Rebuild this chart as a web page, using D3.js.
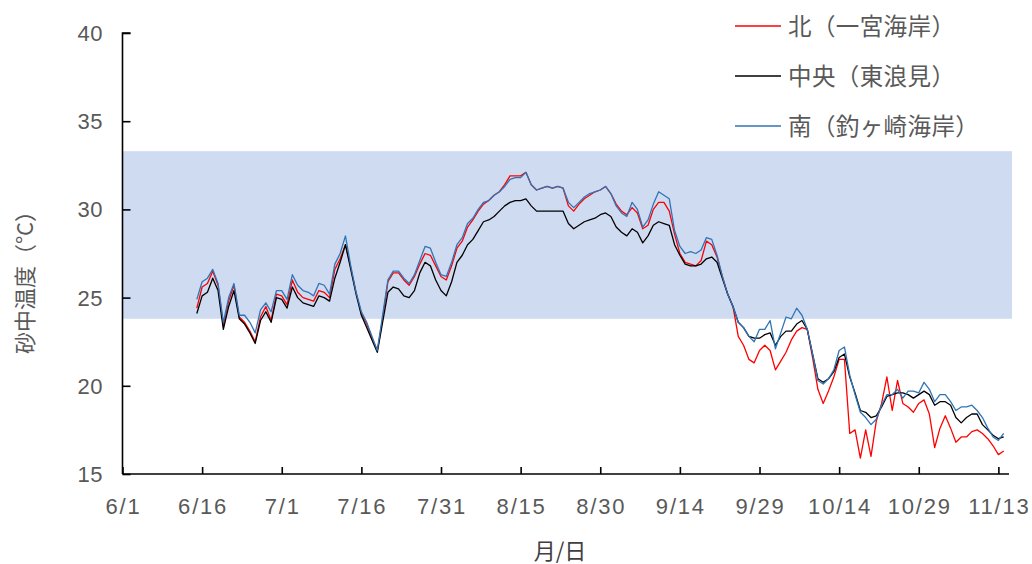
<!DOCTYPE html>
<html>
<head>
<meta charset="utf-8">
<script src="https://cdn.jsdelivr.net/npm/d3@7"></script>
<style>
  body { margin: 0; background: #fff; }
  svg { display: block; }
</style>
</head>
<body>
<svg id="chart" width="1032" height="564"></svg>
<script>
// Axis ticks: days counted from 6/1, labelled every 15 days
const xTickDays = [0, 15, 30, 45, 60, 75, 90, 105, 120, 135, 150, 165];
const xTickLabels = ["6/1", "6/16", "7/1", "7/16", "7/31", "8/15", "8/30", "9/14", "9/29", "10/14", "10/29", "11/13"];
const yTicks = [15, 20, 25, 30, 35, 40];

// Daily sand temperature (°C), first value on 6/15 (day 14)
const firstDay = 14;

const north = [
  24.4,25.6,25.8,26.5,25.7,23.4,24.8,25.7,23.9,23.6,
  23.1,22.5,23.9,24.5,23.7,25.2,25.1,24.6,26.0,25.3,
  25.0,24.9,24.8,25.4,25.3,25.0,26.6,27.2,28.0,26.7,
  25.3,24.1,23.5,22.7,22.0,23.8,25.9,26.4,26.4,26.0,
  25.7,26.2,26.9,27.5,27.4,26.8,26.2,26.0,26.8,27.8,
  28.2,29.0,29.4,29.9,30.3,30.5,30.8,31.0,31.4,31.9,
  31.9,31.9,32.1,31.4,31.1,31.2,31.3,31.2,31.3,31.2,
  30.2,29.9,30.3,30.6,30.8,31.0,31.1,31.3,30.9,30.3,
  29.9,29.7,30.1,29.8,28.9,29.1,30.0,30.4,30.4,29.9,
  28.6,27.5,27.0,26.9,26.8,27.1,28.2,28.0,27.3,26.2,
  25.2,24.5,22.8,22.3,21.5,21.3,22.0,22.3,22.0,20.9,
  21.4,21.9,22.6,23.1,23.3,23.2,21.6,19.8,19.0,19.7,
  20.5,21.5,21.5,17.3,17.5,15.9,17.5,16.0,18.0,19.0,
  20.5,18.6,20.3,19.0,18.8,18.5,19.0,19.2,18.4,16.5,
  17.6,18.3,17.6,16.8,17.1,17.1,17.4,17.5,17.3,17.0,
  16.6,16.1,16.3
];

const center = [
  24.1,25.1,25.3,26.1,25.4,23.2,24.5,25.4,23.8,23.5,
  23.0,22.4,23.7,24.2,23.6,25.0,24.9,24.4,25.6,25.0,
  24.7,24.6,24.5,25.1,25.0,24.8,26.1,27.0,28.0,26.6,
  25.2,24.0,23.3,22.6,21.9,23.6,25.3,25.6,25.5,25.1,
  25.0,25.4,26.4,27.0,26.8,26.0,25.4,25.1,25.9,27.0,
  27.4,28.0,28.3,28.8,29.3,29.4,29.6,29.9,30.2,30.4,
  30.5,30.5,30.6,30.2,29.9,29.9,29.9,29.9,29.9,29.9,
  29.2,28.9,29.1,29.3,29.4,29.5,29.7,29.8,29.6,29.0,
  28.7,28.5,28.9,28.7,28.1,28.5,29.1,29.3,29.2,29.1,
  28.0,27.4,26.9,26.8,26.8,26.9,27.2,27.3,27.0,26.1,
  25.2,24.5,23.6,23.3,22.8,22.7,22.7,22.9,23.0,22.3,
  22.8,23.1,23.1,23.5,23.7,23.2,21.8,20.4,20.2,20.4,
  20.8,21.6,21.8,20.5,19.6,18.6,18.5,18.2,18.3,18.8,
  19.4,19.5,19.6,19.6,19.5,19.3,19.5,19.7,19.5,18.9,
  19.1,19.1,18.9,18.2,17.9,18.2,18.4,18.4,17.8,17.5,
  17.2,17.0,17.1
];

const south = [
  24.9,25.9,26.1,26.6,25.8,23.6,25.0,25.8,24.0,24.0,
  23.6,23.0,24.3,24.7,24.2,25.4,25.4,24.9,26.3,25.7,
  25.4,25.3,25.1,25.8,25.7,25.2,26.9,27.5,28.5,26.8,
  25.3,24.2,23.6,22.8,22.0,24.0,26.0,26.5,26.5,26.1,
  25.8,26.3,27.1,27.9,27.8,27.0,26.3,26.2,27.0,28.0,
  28.4,29.2,29.5,30.0,30.4,30.5,30.8,31.0,31.3,31.7,
  31.8,31.8,32.1,31.4,31.1,31.2,31.3,31.2,31.3,31.2,
  30.4,30.1,30.4,30.7,30.9,31.0,31.1,31.3,30.9,30.2,
  29.8,29.6,30.4,30.0,29.0,29.4,30.3,31.0,30.8,30.6,
  28.8,27.9,27.5,27.6,27.5,27.7,28.4,28.3,27.4,26.2,
  25.2,24.5,23.6,23.3,22.8,22.5,23.2,23.2,23.7,22.1,
  23.0,23.9,23.8,24.4,24.0,23.2,21.8,20.3,20.1,20.4,
  20.9,22.0,22.2,20.6,19.5,18.5,18.2,17.8,18.1,18.9,
  19.5,19.5,19.8,19.3,19.7,19.7,19.6,20.2,19.8,19.1,
  19.5,19.5,19.1,18.6,18.8,18.8,18.9,18.6,18.2,17.6,
  17.1,16.9,17.3
];

// Shaded reference range (°C)
const bandRange = [23.8, 33.3];

const seriesNames = ["北（一宮海岸）", "中央（東浪見）", "南（釣ヶ崎海岸）"];
const seriesColors = ["#FF0000", "#000000", "#2E75B6"];
const seriesValues = [north, center, south];

const svg = d3.select("#chart");
const latin = "'Liberation Sans', Arial, sans-serif";
const cjk = "'Noto Sans CJK JP', 'Noto Sans', sans-serif";
const textGrey = "#595959";

const x = d3.scaleLinear().domain([0, 167]).range([122.5, 1009]);
const y = d3.scaleLinear().domain([15, 40]).range([474, 33]);

// Shaded band
svg.append("rect")
  .attr("x", x(0))
  .attr("width", x(167) - x(0) + 3)
  .attr("y", y(bandRange[1]))
  .attr("height", y(bandRange[0]) - y(bandRange[1]))
  .attr("fill", "#CFDBF1");

// Series lines (red, black, then blue on top)
const line = d3.line()
  .x((v, i) => x(firstDay + i))
  .y(v => y(v));

seriesValues.forEach((vals, k) => {
  svg.append("path")
    .datum(vals)
    .attr("d", line)
    .attr("fill", "none")
    .attr("stroke", seriesColors[k])
    .attr("stroke-width", 1.3)
    .attr("stroke-linejoin", "round");
});

// Y axis with inward ticks
const yAxis = svg.append("g")
  .attr("transform", `translate(${x(0)},0)`)
  .call(d3.axisRight(y).tickValues(yTicks).tickSize(8).tickFormat(""));
yAxis.select(".domain").attr("d", `M8,${y(40)}H0V${y(15)}`);
yAxis.selectAll("line, path").attr("stroke", "#000").attr("stroke-width", 1.6);

svg.append("g").selectAll("text")
  .data(yTicks)
  .join("text")
  .attr("x", 103)
  .attr("y", d => y(d) + 8)
  .attr("text-anchor", "end")
  .attr("font-family", latin)
  .attr("font-size", 22)
  .attr("letter-spacing", 0.5)
  .attr("fill", textGrey)
  .text(d => d);

// X axis with inward ticks
const xAxis = svg.append("g")
  .attr("transform", `translate(0,${y(15)})`)
  .call(d3.axisTop(x).tickValues(xTickDays).tickSize(7).tickFormat(""));
xAxis.select(".domain").attr("d", `M${x(0)},0H${x(167)}`);
xAxis.selectAll("line, path").attr("stroke", "#000").attr("stroke-width", 1.6);

svg.append("g").selectAll("text")
  .data(xTickDays)
  .join("text")
  .attr("x", d => x(d) + 1)
  .attr("y", 514)
  .attr("text-anchor", "middle")
  .attr("font-family", latin)
  .attr("font-size", 22)
  .attr("letter-spacing", 1.8)
  .attr("fill", textGrey)
  .text((d, i) => xTickLabels[i]);

// Axis titles
svg.append("text")
  .attr("x", 560)
  .attr("y", 559)
  .attr("text-anchor", "middle")
  .attr("font-family", cjk)
  .attr("font-size", 22)
  .attr("fill", "#404040")
  .text("月/日");

svg.append("text")
  .attr("transform", "translate(33,277) rotate(-90)")
  .attr("text-anchor", "middle")
  .attr("font-family", cjk)
  .attr("font-size", 22)
  .attr("fill", textGrey)
  .text("砂中温度（°C）");

// Legend
const legend = svg.append("g");
seriesNames.forEach((name, k) => {
  const ly = 26 + k * 50;
  legend.append("line")
    .attr("x1", 735).attr("x2", 781)
    .attr("y1", ly).attr("y2", ly)
    .attr("stroke", seriesColors[k])
    .attr("stroke-width", 1.3);
  legend.append("text")
    .attr("x", 788)
    .attr("y", ly + 8.5)
    .attr("font-family", cjk)
    .attr("font-size", 23.5)
    .attr("letter-spacing", 0.4)
    .attr("fill", textGrey)
    .text(name);
});
</script>
</body>
</html>
